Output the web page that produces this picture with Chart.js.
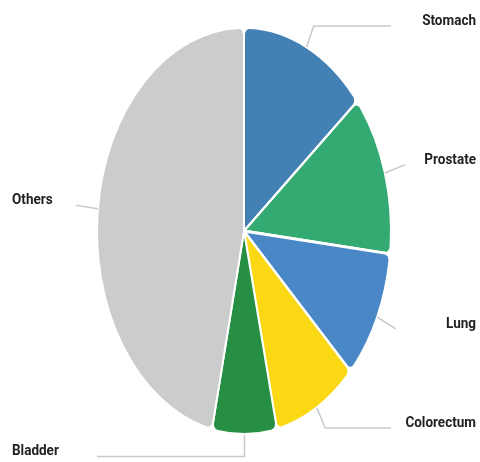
<!DOCTYPE html>
<html lang="en">
<head>
    <meta charset="UTF-8">
    <title>Cancer sites</title>
    <style>
        body {
            margin: 0;
            background: #fff;
        }
        canvas {
            display: block;
        }
    </style>
</head>
<body>
    <canvas id="pieChart" width="480" height="462"></canvas>

    <script src="https://cdn.jsdelivr.net/npm/chart.js"></script>
    <script>
        // Shares (%)
        const sites = ['Stomach', 'Prostate', 'Lung', 'Colorectum', 'Bladder', 'Others'];
        const shares = [14.0, 12.8, 10.3, 9.3, 7.1, 46.5];
        const colors = ['#4381b5', '#33aa72', '#4a87c7', '#fad814', '#268f44', '#cbcdcc'];

        // label placement: side of the chart and where the horizontal hook ends
        const labelSide = ['right', 'right', 'right', 'right', 'left', 'left'];
        const hookEnd = [391, null, null, 391, 97, null];

        const STRETCH = 1.384;   // the pie is drawn as a tall ellipse
        const LEADER = 22;
        const TEXT_SQUEEZE = 0.9; // labels use a condensed look

        const stretchPlugin = {
            id: 'stretch',
            beforeDatasetsDraw(chart) {
                const arc = chart.getDatasetMeta(0).data[0];
                const ctx = chart.ctx;
                ctx.save();
                ctx.translate(arc.x, arc.y);
                ctx.scale(1, STRETCH);
                ctx.translate(-arc.x, -arc.y);
            },
            afterDatasetsDraw(chart) {
                chart.ctx.restore();
            }
        };

        const labelPlugin = {
            id: 'leaderLabels',
            afterDraw(chart) {
                const ctx = chart.ctx;
                const arcs = chart.getDatasetMeta(0).data;
                ctx.save();
                ctx.strokeStyle = '#c9c9c9';
                ctx.lineWidth = 1.5;
                ctx.fillStyle = '#222';
                ctx.font = 'bold 15px Roboto, "Liberation Sans", sans-serif';
                ctx.textBaseline = 'alphabetic';

                arcs.forEach((arc, i) => {
                    const mid = (arc.startAngle + arc.endAngle) / 2;
                    const r = arc.outerRadius;
                    const dx = Math.cos(mid) * r;
                    const dy = Math.sin(mid) * r * STRETCH;
                    const len = Math.hypot(dx, dy);
                    const x0 = arc.x + dx, y0 = arc.y + dy;
                    const x1 = x0 + dx / len * LEADER;
                    const y1 = y0 + dy / len * LEADER;

                    ctx.beginPath();
                    ctx.moveTo(x0, y0);
                    ctx.lineTo(x1, y1);
                    if (hookEnd[i] !== null) ctx.lineTo(hookEnd[i], y1);
                    ctx.stroke();

                    const right = labelSide[i] === 'right';
                    ctx.save();
                    ctx.translate(right ? 476 : 12, y1 - 1);
                    ctx.scale(TEXT_SQUEEZE, 1);
                    ctx.textAlign = right ? 'right' : 'left';
                    ctx.fillText(sites[i], 0, 0);
                    ctx.restore();
                });
                ctx.restore();
            }
        };

        new Chart(document.getElementById('pieChart'), {
            type: 'pie',
            data: {
                labels: sites,
                datasets: [{
                    data: shares,
                    backgroundColor: colors,
                    borderColor: '#ffffff',
                    borderWidth: 2,
                    borderRadius: { outerStart: 5, outerEnd: 5, innerStart: 0, innerEnd: 0 }
                }]
            },
            options: {
                responsive: false,
                animation: false,
                layout: {
                    padding: { left: 96, right: 88, top: 83, bottom: 83 }
                },
                plugins: {
                    legend: { display: false },
                    tooltip: { enabled: false }
                }
            },
            plugins: [stretchPlugin, labelPlugin]
        });
    </script>
</body>
</html>
